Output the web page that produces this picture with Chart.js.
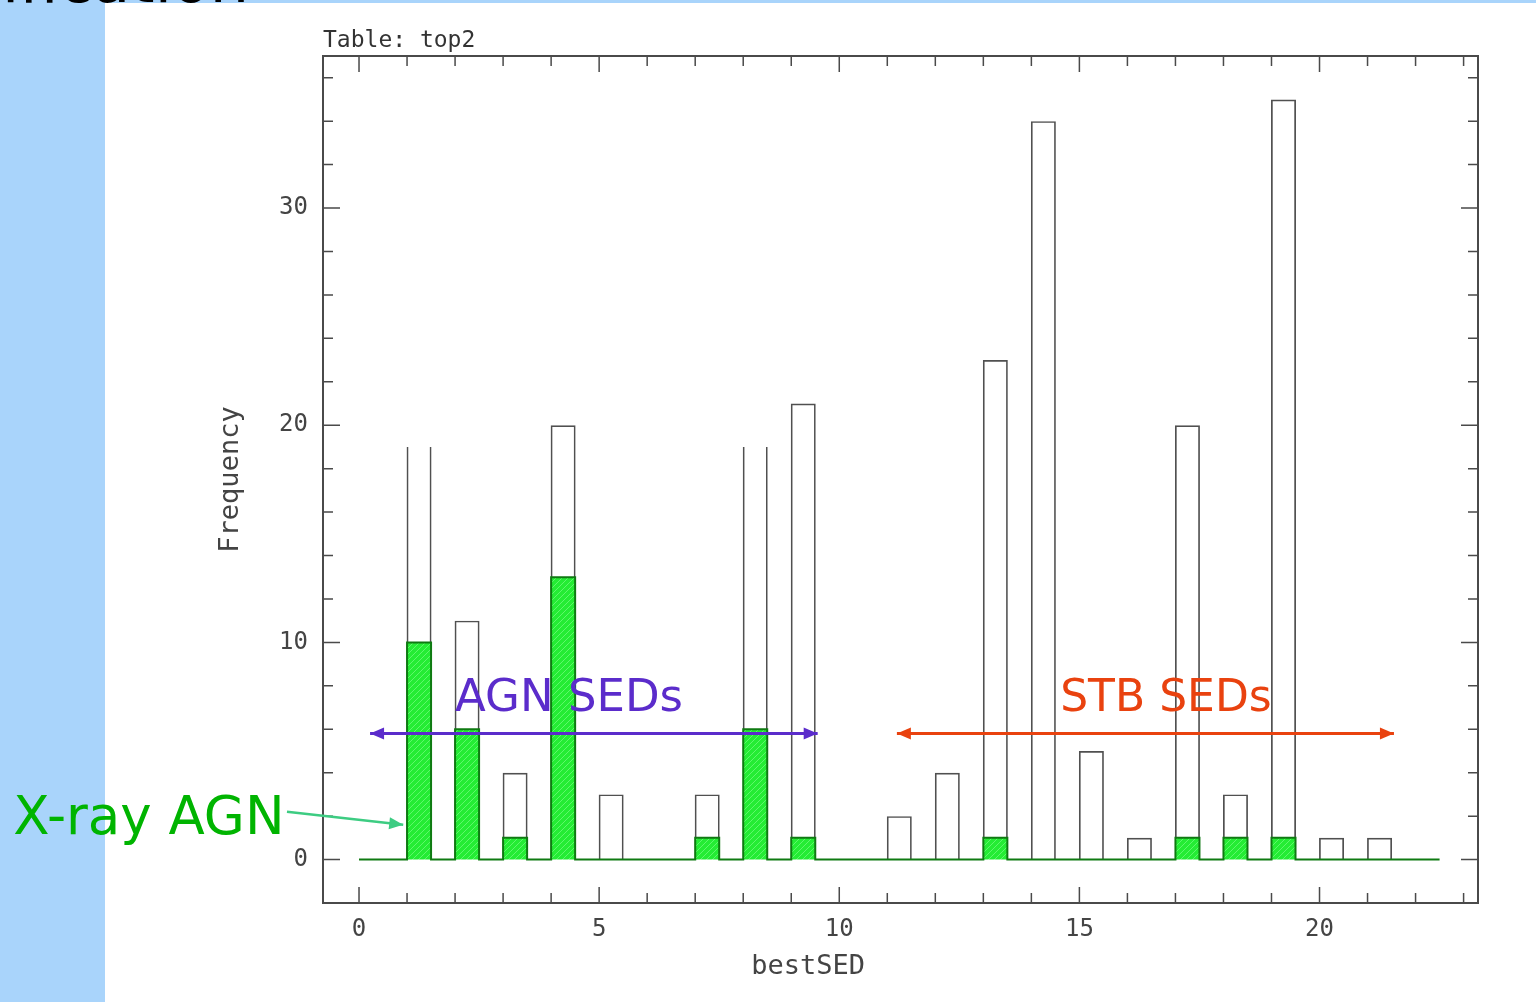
<!DOCTYPE html>
<html>
<head>
<meta charset="utf-8">
<title>bestSED histogram</title>
<script src="https://cdn.jsdelivr.net/npm/chart.js@4.4.1/dist/chart.umd.min.js"></script>
<style>
  html, body { margin: 0; padding: 0; background: #fff; overflow: hidden; }
  #slide { position: relative; width: 1536px; height: 1002px; overflow: hidden; background: #fff; }
  .strip-left { position: absolute; left: 0; top: 0; width: 105px; height: 1002px; background: #a9d4fb; }
  .strip-top { position: absolute; left: 0; top: 0; width: 1536px; height: 3px; background: #a9d4fb; }
  .heading { position: absolute; left: 2px; top: -50px; font: 62px/62px "DejaVu Sans", sans-serif; color: #000; white-space: nowrap; }
  canvas { position: absolute; left: 0; top: 0; }
</style>
</head>
<body>
<div id="slide">
  <div class="strip-left"></div>
  <div class="strip-top"></div>
  <div class="heading">ification</div>
  <canvas id="hist" width="1536" height="1002"></canvas>
</div>
<script>
// histogram bins (bestSED template number) and counts
const bestSED = [0, 1, 2, 3, 4, 5, 6, 7, 8, 9, 10, 11, 12, 13, 14, 15, 16, 17, 18, 19, 20, 21, 22];
const allCounts = [0, 19, 11, 4, 20, 3, 0, 3, 19, 21, 0, 2, 4, 23, 34, 5, 1, 20, 3, 35, 1, 1, 0];
const xrayCounts = [0, 10, 6, 1, 13, 0, 0, 1, 6, 1, 0, 0, 0, 1, 0, 0, 0, 1, 1, 1, 0, 0, 0];
const binWidth = 0.5;
const clippedBins = [1, 8]; // tops are cut off in the original figure

// tick marks and the ones that carry labels
const xTicks = [0, 1, 2, 3, 4, 5, 6, 7, 8, 9, 10, 11, 12, 13, 14, 15, 16, 17, 18, 19, 20, 21, 22, 23];
const xTickLabels = [0, 5, 10, 15, 20];
const yTicks = [0, 2, 4, 6, 8, 10, 12, 14, 16, 18, 20, 22, 24, 26, 28, 30, 32, 34, 36];
const yTickLabels = [0, 10, 20, 30];

// slide annotations, placed in data units
const notes = [
    { text: 'AGN SEDs', color: '#5b2ccb', x: 2.0, y: 6.85, size: 45 },
    { text: 'STB SEDs', color: '#e9420f', x: 14.6, y: 6.85, size: 44 },
    { text: 'X-ray AGN', color: '#00b400', x: -7.2, y: 1.2, size: 53 }
];
const arrows = [
    { from: [0.23, 5.8], to: [9.55, 5.8], color: '#5b2ccb', both: true, width: 3 },
    { from: [11.2, 5.8], to: [21.55, 5.8], color: '#e9420f', both: true, width: 3 },
    { from: [-1.5, 2.2], to: [0.92, 1.6], color: '#3dcc82', both: false, width: 2.5 }
];

const axisFont = 'DejaVu Sans Mono';

function hatch() {
    const c = document.createElement('canvas');
    c.width = 6; c.height = 6;
    const g = c.getContext('2d');
    g.fillStyle = '#24ec34';
    g.fillRect(0, 0, 6, 6);
    g.strokeStyle = '#5ef86b';
    g.lineWidth = 1;
    g.beginPath(); g.moveTo(0, 6); g.lineTo(6, 0); g.stroke();
    return g.createPattern(c, 'repeat');
}

// frame with inward tick marks on all four sides
const frameTicks = {
    id: 'frameTicks',
    afterDatasetsDraw(chart) {
        const { ctx, chartArea: a, scales: { x, y } } = chart;
        ctx.save();
        ctx.strokeStyle = '#4a4a4a';
        ctx.lineWidth = 1.5;
        ctx.beginPath();
        x.ticks.forEach(t => {
            const px = x.getPixelForValue(t.value);
            const len = xTickLabels.includes(t.value) ? 16 : 10;
            ctx.moveTo(px, a.bottom); ctx.lineTo(px, a.bottom - len);
            ctx.moveTo(px, a.top); ctx.lineTo(px, a.top + len);
        });
        y.ticks.forEach(t => {
            const py = y.getPixelForValue(t.value);
            const len = yTickLabels.includes(t.value) ? 17 : 10;
            ctx.moveTo(a.left, py); ctx.lineTo(a.left + len, py);
            ctx.moveTo(a.right, py); ctx.lineTo(a.right - len, py);
        });
        ctx.stroke();
        ctx.lineWidth = 2;
        ctx.strokeRect(a.left, a.top, a.right - a.left, a.bottom - a.top);
        ctx.restore();
    }
};

function head(ctx, tip, from, color) {
    const ang = Math.atan2(tip.y - from.y, tip.x - from.x);
    ctx.save();
    ctx.translate(tip.x, tip.y);
    ctx.rotate(ang);
    ctx.fillStyle = color;
    ctx.beginPath();
    ctx.moveTo(0, 0); ctx.lineTo(-14, -6); ctx.lineTo(-14, 6);
    ctx.closePath();
    ctx.fill();
    ctx.restore();
}

const slideNotes = {
    id: 'slideNotes',
    afterDraw(chart) {
        const { ctx, scales: { x, y } } = chart;
        ctx.save();
        // x axis title sits left of centre in the original
        ctx.fillStyle = '#444';
        ctx.font = '27px "' + axisFont + '"';
        ctx.textAlign = 'center';
        ctx.textBaseline = 'middle';
        ctx.fillText('bestSED', x.getPixelForValue(9.35), x.bottom - 20);

        arrows.forEach(ar => {
            const p0 = { x: x.getPixelForValue(ar.from[0]), y: y.getPixelForValue(ar.from[1]) };
            const p1 = { x: x.getPixelForValue(ar.to[0]), y: y.getPixelForValue(ar.to[1]) };
            ctx.strokeStyle = ar.color;
            ctx.lineWidth = ar.width;
            ctx.beginPath(); ctx.moveTo(p0.x, p0.y); ctx.lineTo(p1.x, p1.y); ctx.stroke();
            head(ctx, p1, p0, ar.color);
            if (ar.both) head(ctx, p0, p1, ar.color);
        });
        ctx.textBaseline = 'alphabetic';
        ctx.textAlign = 'left';
        notes.forEach(n => {
            ctx.fillStyle = n.color;
            ctx.font = n.size + 'px "DejaVu Sans"';
            ctx.fillText(n.text, x.getPixelForValue(n.x), y.getPixelForValue(n.y));
        });
        ctx.restore();
    }
};

const ctx = document.getElementById('hist').getContext('2d');
const histChart = new Chart(ctx, {
    type: 'bar',
    data: {
        datasets: [
            {
                label: 'X-ray AGN',
                type: 'line',
                order: 0,
                data: bestSED.flatMap((s, i) => [{ x: s, y: xrayCounts[i] }, { x: s + binWidth, y: 0 }]),
                stepped: true,
                fill: 'origin',
                backgroundColor: hatch(),
                borderColor: '#0f7a12',
                borderWidth: 2,
                pointRadius: 0
            },
            {
                label: 'All',
                order: 1,
                data: bestSED.map((s, i) => ({ x: s + binWidth / 2, y: allCounts[i] })),
                backgroundColor: 'rgba(0,0,0,0)',
                borderColor: '#505050',
                borderWidth: c => clippedBins.includes(bestSED[c.dataIndex])
                    ? { top: 0, left: 1.7, right: 1.7, bottom: 0 }
                    : { top: 1.7, left: 1.7, right: 1.7, bottom: 0 },
                categoryPercentage: 1,
                barPercentage: 0.52
            }
        ]
    },
    options: {
        responsive: false,
        animation: false,
        layout: { padding: { left: 200, right: 58, top: 0, bottom: 15 } },
        scales: {
            x: {
                type: 'linear', offset: false, bounds: 'data',
                min: -0.75, max: 23.3,
                grid: { display: false, drawTicks: false },
                border: { display: false },
                afterBuildTicks: s => { s.ticks = xTicks.map(v => ({ value: v })); },
                ticks: {
                    autoSkip: false, maxRotation: 0,
                    padding: 12, color: '#444', font: { family: axisFont, size: 24 },
                    callback: v => xTickLabels.includes(v) ? String(v) : ''
                },
                afterFit: s => { s.height = 84; }
            },
            y: {
                type: 'linear', bounds: 'data',
                min: -2, max: 37,
                grid: { display: false, drawTicks: false },
                border: { display: false },
                afterBuildTicks: s => { s.ticks = yTicks.map(v => ({ value: v })); },
                ticks: {
                    autoSkip: false,
                    padding: 15, color: '#444', font: { family: axisFont, size: 24 },
                    callback: v => yTickLabels.includes(v) ? String(v) : ''
                },
                title: { display: true, text: 'Frequency', color: '#444', font: { family: axisFont, size: 27 }, padding: { top: 15, bottom: 0 } },
                afterFit: s => { s.width = 123; }
            }
        },
        plugins: {
            legend: { display: false },
            tooltip: { enabled: false },
            title: {
                display: true, text: 'Table: top2', align: 'start', fullSize: false,
                color: '#333', font: { family: axisFont, size: 23, weight: 'normal' },
                padding: { top: 27, bottom: 1.4 }
            }
        }
    },
    plugins: [frameTicks, slideNotes]
});
</script>
</body>
</html>
